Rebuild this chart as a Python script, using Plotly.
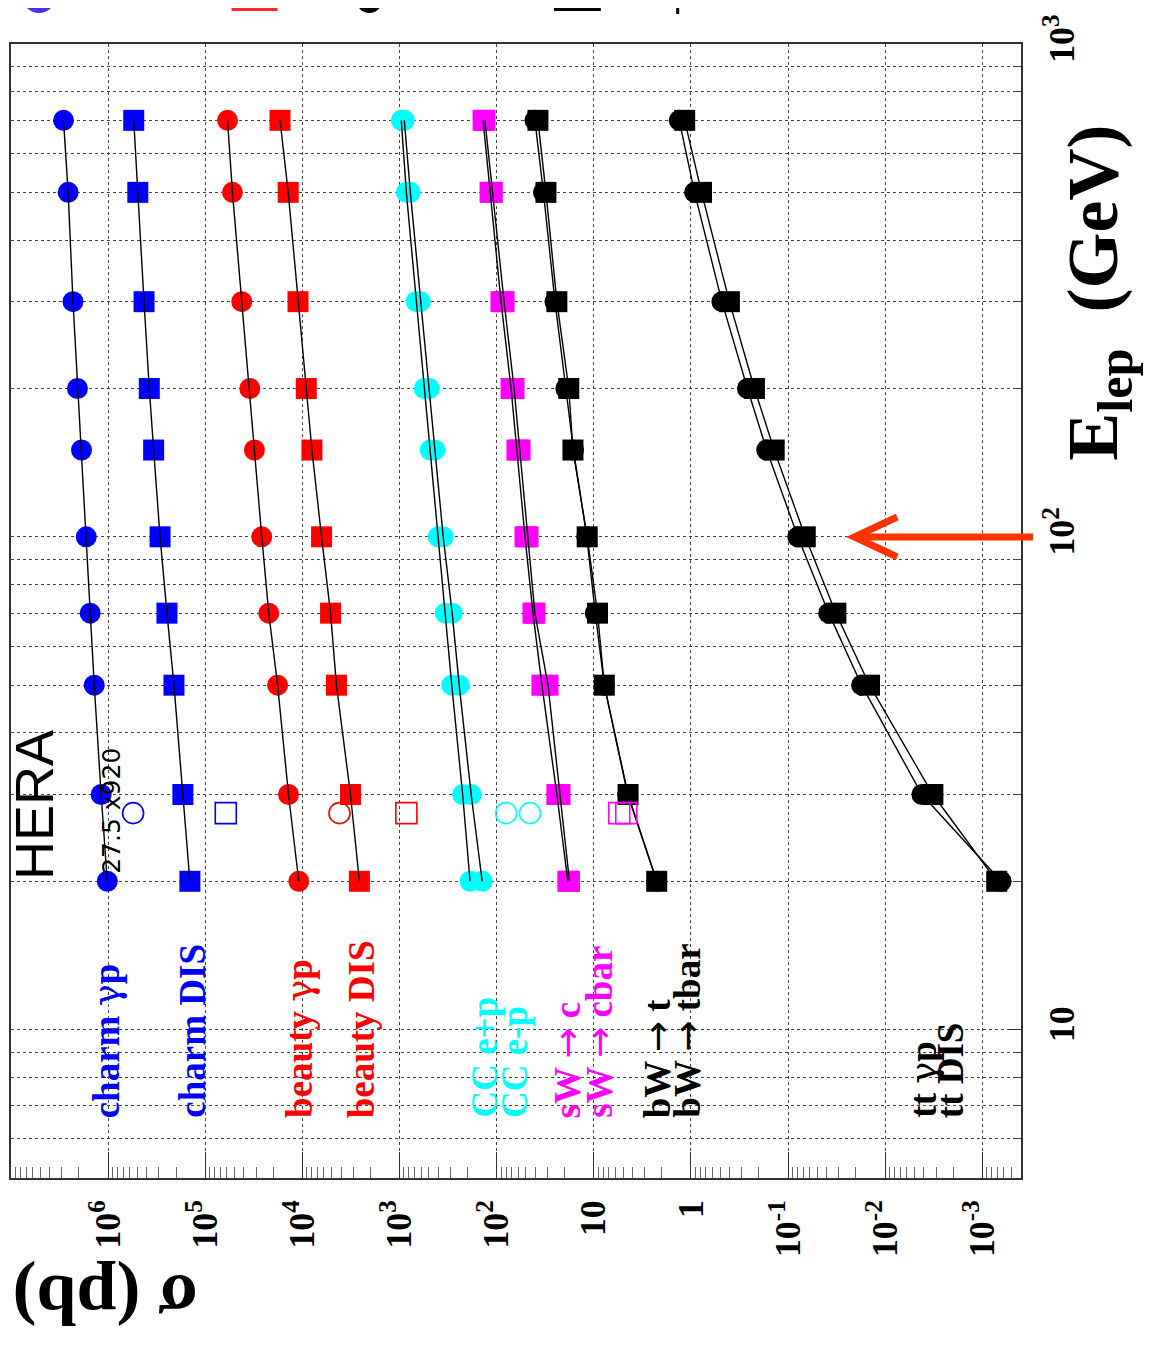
import plotly.graph_objects as go

# ── データ (σ in pb, E_lep in GeV) ─────────────────────
E_LEP = [20, 30, 50, 70, 100, 150, 200, 300, 500, 700]

CHARM_GP = [1.02e6, 1.18e6, 1.39e6, 1.53e6, 1.68e6, 1.88e6, 2.07e6, 2.30e6, 2.58e6, 2.88e6]
CHARM_DIS = [1.44e5, 1.70e5, 2.10e5, 2.48e5, 2.92e5, 3.40e5, 3.77e5, 4.27e5, 4.95e5, 5.45e5]
BEAUTY_GP = [1.09e4, 1.39e4, 1.80e4, 2.22e4, 2.62e4, 3.12e4, 3.48e4, 4.21e4, 5.25e4, 5.90e4]
BEAUTY_DIS = [2.59e3, 3.20e3, 4.46e3, 5.13e3, 6.35e3, 7.98e3, 9.12e3, 1.11e4, 1.40e4, 1.70e4]
CC_EPLUS = [188, 224, 290, 339, 400, 483, 556, 673, 851, 959]
CC_EMINUS = [141, 183, 243, 287, 355, 434, 494, 611, 774, 893]
SW_C = [18.5, 24.0, 34.2, 42.3, 51.1, 61.8, 71.1, 90.2, 117, 138]
SW_CBAR = [17.8, 22.3, 29.6, 40.4, 47.6, 57.5, 66.2, 83.9, 111, 132]
BW_T = [2.25, 4.48, 7.80, 9.66, 11.8, 16.2, 19.4, 25.1, 33.0, 40.4]
BW_TBAR = [2.25, 4.44, 7.80, 9.16, 11.7, 16.4, 18.1, 24.0, 31.1, 37.6]
TT_GP = [6.40e-4, 4.19e-3, 0.0175, 0.0382, 0.0794, 0.166, 0.262, 0.480, 0.918, 1.32]
TT_DIS = [7.11e-4, 3.23e-3, 0.0145, 0.0322, 0.0665, 0.139, 0.222, 0.402, 0.778, 1.16]

SERIES = [CHARM_GP, CHARM_DIS, BEAUTY_GP, BEAUTY_DIS, CC_EPLUS, CC_EMINUS,
          SW_C, SW_CBAR, BW_T, BW_TBAR, TT_GP, TT_DIS]
COLORS = ["#0000ff", "#0000ff", "#ff0000", "#ff0000", "#00ffff", "#00ffff",
          "#ff00ff", "#ff00ff", "#000000", "#000000", "#000000", "#000000"]
SYMBOLS = ["circle", "square", "circle", "square", "circle", "circle",
           "square", "square", "circle", "square", "circle", "square"]

GAMMA = '<span style="font-family:DejaVu Serif;font-weight:normal">γ</span>'
ARROW = '<span style="font-family:DejaVu Sans;font-weight:normal">→</span>'
NAMES = [f"charm {GAMMA}p", "charm DIS", f"beauty {GAMMA}p", "beauty DIS", "CC e+p", "CC e-p",
         f"sW {ARROW} c", f"sW {ARROW} cbar", f"bW {ARROW} t", f"bW {ARROW} tbar",
         f"tt {GAMMA}p", "tt DIS"]

# HERA (27.5 x 920) 点
E_HERA = 27.5
HERA_SIGMA = [5.53e5, 6.15e4, 4.15e3, 851, 80.0, 45.4, 5.47, 4.63]
HERA_COLORS = ["#0000ff", "#0000ff", "#ff0000", "#ff0000", "#00ffff", "#00ffff", "#ff00ff", "#ff00ff"]
HERA_SYMBOLS = ["circle-open", "square-open", "circle-open", "square-open",
                "circle-open", "circle-open", "square-open", "square-open"]

X_TICKS = [1e6, 1e5, 1e4, 1e3, 1e2, 1e1, 1, 1e-1, 1e-2, 1e-3]
X_TICKTEXT = ["10<sup>6</sup>", "10<sup>5</sup>", "10<sup>4</sup>", "10<sup>3</sup>",
              "10<sup>2</sup>", "10", "1", "10<sup>-1</sup>", "10<sup>-2</sup>", "10<sup>-3</sup>"]
Y_TICKS = [10, 100, 1000]
Y_TICKTEXT = ["10", "10<sup>2</sup>", "10<sup>3</sup>"]

# ── レイアウト (ページ余白 8px を考慮) ─────────────────
W, H = 1147, 1341
L, R, T, B = 1, 134, 36, 171
OFF = 8


def px(x):
    # 画面 x (px) -> paper
    return (x - OFF - L) / (W - L - R)


def py(y):
    # 画面 y (px) -> paper
    return 1 - (y - OFF - T) / (H - T - B)


SERIF = "Liberation Serif"
fig = go.Figure()

# マーカー
for ys, col, sym in zip(SERIES, COLORS, SYMBOLS):
    fig.add_trace(go.Scatter(
        x=ys, y=E_LEP, mode="markers",
        marker=dict(color=col, symbol=sym, size=21, line=dict(width=0)),
        cliponaxis=False,
    ))
# 線 (マーカーの上に黒線)
for ys in SERIES:
    fig.add_trace(go.Scatter(
        x=ys, y=E_LEP, mode="lines",
        line=dict(color="black", width=1.4),
    ))
# HERA 白抜き点
for s, col, sym in zip(HERA_SIGMA, HERA_COLORS, HERA_SYMBOLS):
    fig.add_trace(go.Scatter(
        x=[s], y=[E_HERA], mode="markers",
        marker=dict(color=col, symbol=sym, size=21, line=dict(width=1.6, color=col)),
    ))

X_RANGE = [7, -3.398]
x_minor = [m * 10 ** k for k in range(-4, 7) for m in range(2, 10) if 4e-4 <= m * 10 ** k <= 1e7]
y_minor = [m * 10 ** k for k in range(0, 3) for m in range(2, 10) if 5 <= m * 10 ** k <= 1000]

# x 副目盛り用の重ね軸 (反転軸では minor が効かないため)
fig.add_trace(go.Scatter(x=[1, 10], y=[10, 100], mode="markers", xaxis="x2",
                         marker=dict(opacity=0), hoverinfo="skip"))

fig.update_layout(
    xaxis=dict(
        type="log", range=X_RANGE,
        tickmode="array", tickvals=X_TICKS, ticktext=X_TICKTEXT, tickangle=-90,
        tickfont=dict(family=SERIF, size=36, color="black", weight="bold"),
        ticks="inside", ticklen=26, tickcolor="#333", tickwidth=1,
        showgrid=True, gridcolor="#444", gridwidth=1, griddash="3px,3px",
        showline=True, linecolor="#333", linewidth=1.5, mirror=True, zeroline=False,
        ticklabelstandoff=6,
    ),
    xaxis2=dict(
        type="log", range=X_RANGE, overlaying="x", anchor="y", side="bottom",
        tickmode="array", tickvals=x_minor, showticklabels=False,
        ticks="inside", ticklen=11, tickcolor="#666", tickwidth=1,
        showgrid=False, showline=False, zeroline=False,
    ),
    yaxis=dict(
        type="log", range=[0.69897, 3], side="right",
        tickmode="array", tickvals=Y_TICKS, ticktext=Y_TICKTEXT, tickangle=-90,
        tickfont=dict(family=SERIF, size=36, color="black", weight="bold"),
        ticks="inside", ticklen=14, tickcolor="#333", tickwidth=1,
        showgrid=True, gridcolor="#444", gridwidth=1, griddash="3px,3px",
        minor=dict(tickvals=y_minor, ticks="inside", ticklen=8, tickcolor="#444", tickwidth=1,
                   showgrid=True, gridcolor="#444", gridwidth=1, griddash="3px,3px"),
        showline=True, linecolor="#333", linewidth=1.5, mirror=True, zeroline=False,
        ticklabelstandoff=8,
    ),
)

ann = []
# 凡例テキスト (縦書き)
LABEL_XPX = [105, 190, 298, 360, 483, 513, 567, 598, 657, 686, 923, 950]
for name, col, xc in zip(NAMES, COLORS, LABEL_XPX):
    ann.append(dict(x=px(xc), y=py(1120), xref="paper", yref="paper", text=name,
                    textangle=-90, xanchor="center", yanchor="bottom", showarrow=False,
                    font=dict(family=SERIF, size=37, color=col, weight="bold")))
ann.append(dict(x=px(32), y=py(805), xref="paper", yref="paper", text="HERA", textangle=-90,
                xanchor="center", yanchor="middle", showarrow=False, borderpad=0,
                font=dict(family="Liberation Sans", size=54, color="black")))
ann.append(dict(x=px(109), y=py(811), xref="paper", yref="paper", text="27.5 x920", textangle=-90,
                xanchor="center", yanchor="middle", showarrow=False,
                font=dict(family="DejaVu Sans", size=25, color="black")))
# 軸タイトル
ann.append(dict(x=px(103), y=py(1300), xref="paper", yref="paper", text="σ (pb)", textangle=180,
                xanchor="center", yanchor="middle", showarrow=False, borderpad=0,
                font=dict(family=SERIF, size=72, color="black", weight="bold")))
ann.append(dict(x=px(1098), y=py(293), xref="paper", yref="paper",
                text="E<sub>lep</sub>\u00a0\u00a0(GeV)", textangle=-90,
                xanchor="center", yanchor="middle", showarrow=False,
                font=dict(family=SERIF, size=72, color="black", weight="bold")))

shapes = []
# 赤い矢印 (E = 100 GeV)
red = "#ff3300"
shapes.append(dict(type="path", xref="paper", yref="paper",
                   path=f"M {px(1033)},{py(537)} L {px(857)},{py(537)}",
                   line=dict(color=red, width=7)))
shapes.append(dict(type="path", xref="paper", yref="paper",
                   path=f"M {px(897)},{py(517)} L {px(854)},{py(537)} L {px(897)},{py(557)}",
                   line=dict(color=red, width=7)))
# 上端で切れた記号
shapes.append(dict(type="circle", xref="paper", yref="paper", x0=px(20), x1=px(54), y0=py(13), y1=py(-21),
                   fillcolor="#4a30ff", line=dict(width=0)))
shapes.append(dict(type="rect", xref="paper", yref="paper", x0=px(230), x1=px(276), y0=py(11), y1=py(-20),
                   fillcolor="#ff2a2a", line=dict(width=0)))
shapes.append(dict(type="circle", xref="paper", yref="paper", x0=px(355), x1=px(381), y0=py(13), y1=py(-13),
                   fillcolor="black", line=dict(width=0)))
shapes.append(dict(type="rect", xref="paper", yref="paper", x0=px(553), x1=px(600), y0=py(11), y1=py(-20),
                   fillcolor="black", line=dict(width=0)))
shapes.append(dict(type="line", xref="paper", yref="paper", x0=px(677), x1=px(677), y0=py(14), y1=py(0),
                   line=dict(color="black", width=3)))

fig.update_layout(
    width=W, height=H,
    margin=dict(l=L, r=R, t=T, b=B),
    plot_bgcolor="white", paper_bgcolor="white",
    showlegend=False,
    annotations=ann, shapes=shapes,
)

fig.write_html("out.html")
